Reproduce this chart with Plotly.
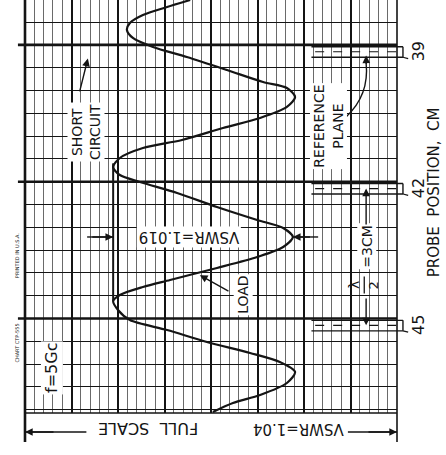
import plotly.graph_objects as go

# ---- data (probe position in cm, detector amplitude in % of full scale)
position_cm = [37.865, 38.019, 38.194, 38.369, 38.523, 38.698, 38.896, 39.115, 39.400, 39.663,
               39.795, 39.992, 40.211, 40.453, 40.672, 40.935, 41.111, 41.330, 41.527, 41.703,
               41.856, 42.097, 42.404, 42.689, 42.865, 43.062, 43.282, 43.501, 43.742, 44.005,
               44.159, 44.334, 44.466, 44.663, 44.883, 45.102, 45.365, 45.606, 45.804, 46.023,
               46.264, 46.527, 46.703, 46.900]
amplitude_pct = [44.4, 38.2, 31.7, 28.2, 27.4, 29.0, 34.4, 43.5, 54.3, 64.0,
                 70.4, 72.6, 70.4, 63.2, 53.2, 42.2, 31.7, 25.5, 23.7, 25.5,
                 30.9, 40.9, 51.6, 62.4, 69.4, 72.0, 69.4, 62.4, 51.6, 39.0,
                 31.7, 25.5, 23.7, 25.0, 28.2, 38.2, 48.9, 60.5, 68.5, 72.6,
                 70.4, 63.2, 55.9, 50.5]
probe_ticks = [39, 42, 45]
probe_labels = ["39", "42", "45"]
grid_major_cm = [38.85, 41.85, 44.85]

INK = "#141414"
FONT = "DejaVu Sans"

n = len(amplitude_pct)
mins = [i for i in range(1, n - 1) if amplitude_pct[i] <= amplitude_pct[i - 1] and amplitude_pct[i] <= amplitude_pct[i + 1]]
maxs = [i for i in range(1, n - 1) if amplitude_pct[i] >= amplitude_pct[i - 1] and amplitude_pct[i] >= amplitude_pct[i + 1]]
min_level = amplitude_pct[mins[1]]
peak_i = maxs[1]
peak_pos = position_cm[peak_i]
peak_amp = amplitude_pct[peak_i]

fig = go.Figure()
fig.add_trace(go.Scatter(x=amplitude_pct, y=position_cm, mode="lines",
                         line=dict(color=INK, width=2.2, shape="spline", smoothing=0.8),
                         hoverinfo="skip", showlegend=False))

shapes = []
# heavy reference grid lines
for g in grid_major_cm:
    shapes.append(dict(type="line", xref="paper", yref="y", x0=-0.019, x1=1.0, y0=g, y1=g,
                       line=dict(color=INK, width=2.6)))
# borders
shapes.append(dict(type="line", xref="paper", yref="paper", x0=0, x1=0, y0=1, y1=-0.07, line=dict(color=INK, width=2.6)))
shapes.append(dict(type="line", xref="paper", yref="paper", x0=1, x1=1, y0=1, y1=-0.07, line=dict(color=INK, width=1.6)))
shapes.append(dict(type="line", xref="paper", yref="paper", x0=0, x1=1, y0=0, y1=0, line=dict(color=INK, width=1.6)))
# probe marker boxes
for p in probe_ticks:
    shapes.append(dict(type="line", xref="paper", yref="y", x0=0.77, x1=1.016, y0=p - 0.11, y1=p - 0.11, line=dict(color=INK, width=1.4)))
    shapes.append(dict(type="line", xref="paper", yref="y", x0=0.77, x1=1.016, y0=p + 0.12, y1=p + 0.12, line=dict(color=INK, width=1.4)))
    shapes.append(dict(type="line", xref="paper", yref="y", x0=1.016, x1=1.016, y0=p - 0.11, y1=p + 0.12, line=dict(color=INK, width=1.4)))
    shapes.append(dict(type="line", xref="paper", yref="y", x0=0.78, x1=1.005, y0=p, y1=p, line=dict(color=INK, width=1.2, dash="dash")))
    shapes.append(dict(type="line", xref="paper", yref="y", x0=1.016, x1=1.03, y0=p + 0.12, y1=p + 0.15, line=dict(color=INK, width=1.2)))
# vertical line through minima
shapes.append(dict(type="line", xref="x", yref="y", x0=min_level, x1=min_level,
                   y0=position_cm[mins[1]] - 0.08, y1=position_cm[mins[2]], line=dict(color=INK, width=2)))
# VSWR dimension extension at peak
shapes.append(dict(type="line", xref="x", yref="y", x0=peak_amp, x1=peak_amp + 6.8, y0=peak_pos, y1=peak_pos, line=dict(color=INK, width=1.4)))
shapes.append(dict(type="line", xref="x", yref="y", x0=min_level - 7, x1=min_level, y0=peak_pos, y1=peak_pos, line=dict(color=INK, width=1.4)))
# lambda/2 fraction bar
shapes.append(dict(type="line", xref="x", yref="y", x0=91.2, x1=91.2, y0=43.93, y1=44.30, line=dict(color=INK, width=1.3)))
# curved leader for REFERENCE PLANE
shapes.append(dict(type="path", xref="x", yref="y", path="M 86.3,40.43 Q 92.6,39.95 91.7,39.25",
                   line=dict(color=INK, width=1.4)))
# bottom full-scale line
shapes.append(dict(type="line", xref="paper", yref="paper", x0=0, x1=0.165, y0=-0.046, y1=-0.046, line=dict(color=INK, width=1.4)))
shapes.append(dict(type="line", xref="paper", yref="paper", x0=0.868, x1=1, y0=-0.046, y1=-0.046, line=dict(color=INK, width=1.4)))

ann = []
def txt(text, x, y, xref="x", yref="y", angle=-90, size=14, bg="white"):
    ann.append(dict(text=text, x=x, y=y, xref=xref, yref=yref, textangle=angle, showarrow=False,
                    xanchor="center", yanchor="middle",
                    font=dict(family=FONT, size=size, color=INK), bgcolor=bg, borderpad=1))

def arrow(x, y, ax, ay, xref="x", yref="y", axref="x", ayref="y", head=2):
    ann.append(dict(text="", x=x, y=y, ax=ax, ay=ay, xref=xref, yref=yref, axref=axref, ayref=ayref,
                    showarrow=True, arrowhead=head, arrowsize=1.1, arrowwidth=1.4, arrowcolor=INK))

txt("SHORT<br>CIRCUIT", 16.4, 40.76)
arrow(16.9, 39.15, 14.6, 39.90)
txt("REFERENCE<br>PLANE", 81.6, 40.63)
arrow(91.7, 39.08, 91.75, 39.30)
txt("VSWR=1.019", 44.0, peak_pos, angle=180, size=15)
arrow(min_level, peak_pos, min_level - 6, peak_pos)
arrow(peak_amp, peak_pos, peak_amp + 5, peak_pos)
txt("LOAD", 58.6, 44.33)
arrow(47.0, 43.90, 55.1, 44.27)
txt("=3CM", 92.0, 43.27)
txt("λ", 88.4, 44.12, size=14, bg="rgba(0,0,0,0)")
txt("2", 93.6, 44.12, size=13, bg="rgba(0,0,0,0)")
arrow(91.7, probe_ticks[1], 91.7, 42.82)
arrow(91.7, probe_ticks[2], 91.7, 44.38)
txt("f=5Gc", 7.3, 45.93, size=16)
txt("PRINTED IN U.S.A.", -0.0215, 43.46, xref="paper", size=5, bg="rgba(0,0,0,0)")
txt("CHART CTP-555", -0.0215, 45.40, xref="paper", size=5, bg="rgba(0,0,0,0)")
for p, lab in zip(probe_ticks, probe_labels):
    txt(lab, 1.058, p, xref="paper", size=16, bg="rgba(0,0,0,0)")
txt("PROBE  POSITION,  CM", 1.098, 42.07, xref="paper", size=15, bg="rgba(0,0,0,0)")
txt("FULL  SCALE", 0.331, -0.037, xref="paper", yref="paper", angle=180, size=16)
txt("VSWR=1.04", 0.735, -0.040, xref="paper", yref="paper", angle=180, size=15)
arrow(0, -0.046, 30, 0, xref="paper", yref="paper", axref="pixel", ayref="pixel")
arrow(1, -0.046, -30, 0, xref="paper", yref="paper", axref="pixel", ayref="pixel")

fig.update_layout(
    width=446, height=455, margin=dict(l=25, r=49, t=0, b=42),
    paper_bgcolor="white", plot_bgcolor="white", showlegend=False,
    xaxis=dict(range=[0, 100], showticklabels=False, ticks="", zeroline=False, showline=False,
               tick0=0, dtick=12.5, showgrid=True, gridcolor=INK, gridwidth=1.6,
               minor=dict(tick0=0, dtick=2.5, showgrid=True, gridcolor="#6a6a6a", gridwidth=1)),
    yaxis=dict(range=[46.922, 37.865], showticklabels=False, ticks="", zeroline=False, showline=False,
               tick0=38.85, dtick=0.5, showgrid=True, gridcolor=INK, gridwidth=1.4),
    shapes=shapes, annotations=ann,
)
fig.write_html("out.html")
